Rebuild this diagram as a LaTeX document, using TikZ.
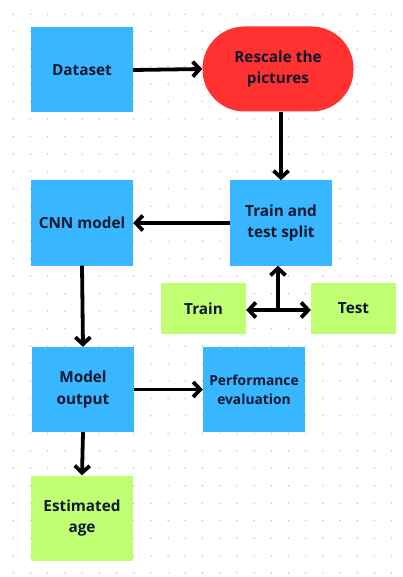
\documentclass[tikz,border=0pt]{standalone}
\usepackage{fontspec}
\setmainfont{Open Sans}
\usetikzlibrary{arrows.meta}
\definecolor{cblue}{HTML}{38B6FF}
\definecolor{cred}{HTML}{FF3131}
\definecolor{cgreen}{HTML}{C1FF72}
\definecolor{txt}{HTML}{10182E}
\definecolor{dotc}{HTML}{C4C4C4}
\begin{document}
\begin{tikzpicture}[x=1pt,y=-1pt,
  box/.style={minimum width=102pt,minimum height=85pt,inner sep=0pt,align=center,
    font=\fontsize{15.3}{21.5}\selectfont\bfseries,text=txt},
  bluebox/.style={box,fill=cblue},
  greenbox/.style={box,fill=cgreen},
  smallbox/.style={greenbox,minimum width=85pt,minimum height=51pt},
  arr/.style={line width=3.8pt,-{Straight Barb[length=7pt,width=15pt]}}]
\useasboundingbox (0,0) rectangle (403,577);
\fill[white] (0,0) rectangle (403,577);
\foreach \i in {0,...,22}{\foreach \j in {0,...,32}{\fill[dotc] (13.3+17.2*\i,14.3+17.46*\j) circle (0.8pt);}}
\node[bluebox] (data) at (82,70) {Dataset};
\node[box,fill=cred,minimum width=151pt,rounded corners=42pt] (resc) at (278,69) {Rescale the\\pictures};
\node[bluebox] (split) at (281,223) {Train and\\test split};
\node[bluebox] (cnn) at (82,223) {CNN model};
\node[smallbox] (train) at (203.5,308.5) {Train};
\node[smallbox] (test) at (353.5,308.5) {Test};
\node[bluebox] (mout) at (83,389.5) {Model\\output};
\node[bluebox,font=\fontsize{13.8}{19}\selectfont\bfseries] (perf) at (254,389.5) {Performance\\evaluation};
\node[greenbox] (est) at (82,518) {Estimated\\age};
\coordinate (hub) at (278,310);
\draw[arr] (data.east) -- (resc.west);
\draw[arr] (split.north |- resc.south) -- (split.north);
\draw[arr] (split.west) -- (cnn.east);
\draw[arr] (hub) -- (split.south -| hub);
\draw[arr] (hub) -- (train.east |- hub);
\draw[arr] (hub) -- (test.west |- hub);
\draw[arr] (cnn.south) -- (mout.north);
\draw[arr] (mout.east) -- (perf.west);
\draw[arr] (mout.south) -- (est.north);
\end{tikzpicture}
\end{document}
